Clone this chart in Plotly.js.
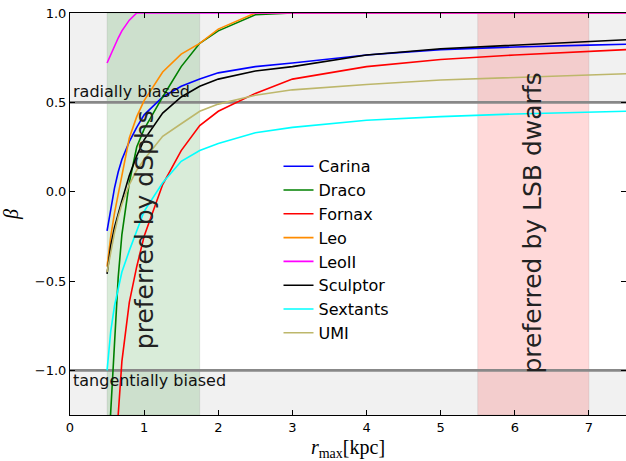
<!DOCTYPE html>
<html>
<head>
<meta charset="utf-8">
<script src="https://cdn.plot.ly/plotly-3.0.1.min.js"></script>
<style>html,body{margin:0;padding:0;background:#fff;}#chart{width:626px;height:461px;}</style>
</head>
<body>
<div id="chart"></div>
<script>
// r_max grid [kpc]
const rmax = [0.5, 0.55, 0.6, 0.65, 0.7, 0.8, 0.9, 1.0, 1.25, 1.5, 1.75, 2.0, 2.5, 3.0, 4.0, 5.0, 6.0, 7.0, 7.5];

const galaxies = ["Carina", "Draco", "Fornax", "Leo", "LeoII", "Sculptor", "Sextants", "UMI"];

const betaCarina   = [-0.22, -0.09, 0.02, 0.11, 0.18, 0.28, 0.36, 0.43, 0.53, 0.59, 0.63, 0.665, 0.70, 0.72, 0.765, 0.795, 0.81, 0.82, 0.825];
const betaDraco    = [-1.6, -1.21, -0.85, -0.48, -0.24, 0.05, 0.25, 0.35, 0.53, 0.70, 0.83, 0.90, 0.99, 1.0, 1.0, 1.0, 1.0, 1.0, 1.0];
const betaFornax   = [-2.4, -2.0, -1.6, -1.25, -0.95, -0.62, -0.42, -0.25, 0.04, 0.23, 0.37, 0.45, 0.55, 0.63, 0.70, 0.74, 0.765, 0.785, 0.795];
const betaLeo      = [-0.42, -0.25, -0.12, -0.02, 0.10, 0.30, 0.42, 0.51, 0.67, 0.77, 0.83, 0.91, 1.0, 1.0, 1.0, 1.0, 1.0, 1.0, 1.0];
const betaLeoII    = [0.72, 0.77, 0.82, 0.86, 0.90, 0.96, 1.0, 1.0, 1.0, 1.0, 1.0, 1.0, 1.0, 1.0, 1.0, 1.0, 1.0, 1.0, 1.0];
const betaSculptor = [-0.46, -0.30, -0.20, -0.12, -0.05, 0.09, 0.20, 0.29, 0.44, 0.53, 0.59, 0.63, 0.675, 0.70, 0.765, 0.80, 0.82, 0.84, 0.85];
const betaSextants = [-1.0, -0.78, -0.64, -0.54, -0.45, -0.33, -0.22, -0.11, 0.05, 0.17, 0.23, 0.27, 0.33, 0.36, 0.40, 0.42, 0.435, 0.445, 0.45];
const betaUMI      = [-0.45, -0.33, -0.23, -0.14, -0.07, 0.04, 0.12, 0.18, 0.31, 0.38, 0.45, 0.49, 0.54, 0.57, 0.60, 0.625, 0.64, 0.655, 0.66];

const seriesValues = [betaCarina, betaDraco, betaFornax, betaLeo, betaLeoII, betaSculptor, betaSextants, betaUMI];
const seriesColors = ["#0000ff", "#008000", "#ff0000", "#ff8c00", "#ff00ff", "#000000", "#00ffff", "#bdb76b"];

// reference levels and preferred ranges
const radialLevel = 0.5;
const tangentialLevel = -1.0;
const dSphRange = [0.5, 1.75];
const lsbRange = [5.5, 7.0];
const xRange = [0, 7.5];
const yRange = [-1.25, 1.0];
const xTicks = [0, 1, 2, 3, 4, 5, 6, 7];
const yTicks = [-1.0, -0.5, 0.0, 0.5, 1.0];

const traces = galaxies.map((g, i) => ({
  x: rmax, y: seriesValues[i], name: g,
  type: "scatter", mode: "lines",
  line: {color: seriesColors[i], width: 1.6}
}));

const shapes = [
  {type: "rect", xref: "paper", yref: "y", x0: 0, x1: 1, y0: radialLevel, y1: yRange[1], fillcolor: "#f1f1f1", line: {width: 0}, layer: "below"},
  {type: "rect", xref: "paper", yref: "y", x0: 0, x1: 1, y0: yRange[0], y1: tangentialLevel, fillcolor: "#f1f1f1", line: {width: 0}, layer: "below"},
  {type: "rect", xref: "x", yref: "paper", x0: dSphRange[0], x1: dSphRange[1], y0: 0, y1: 1, fillcolor: "rgba(0,128,0,0.15)", line: {width: 1, color: "rgba(0,0,0,0.08)"}, layer: "below"},
  {type: "rect", xref: "x", yref: "paper", x0: lsbRange[0], x1: lsbRange[1], y0: 0, y1: 1, fillcolor: "rgba(255,0,0,0.15)", line: {width: 1, color: "rgba(0,0,0,0.08)"}, layer: "below"},
  {type: "line", xref: "paper", yref: "y", x0: 0, x1: 1, y0: radialLevel, y1: radialLevel, line: {color: "#888888", width: 2.6}, layer: "below"},
  {type: "line", xref: "paper", yref: "y", x0: 0, x1: 1, y0: tangentialLevel, y1: tangentialLevel, line: {color: "#888888", width: 2.6}, layer: "below"}
];

const annFont = {family: "DejaVu Sans", size: 16, color: "#111"};
const bigFont = {family: "DejaVu Sans", size: 25, color: "#222"};
const annotations = [
  {text: "radially biased", xref: "x", yref: "y", x: 0.03, y: radialLevel, xanchor: "left", yanchor: "bottom", showarrow: false, font: annFont, borderpad: 0},
  {text: "tangentially biased", xref: "x", yref: "y", x: 0.03, y: tangentialLevel, xanchor: "left", yanchor: "top", showarrow: false, font: annFont, borderpad: 0},
  {text: "preferred by dSphs", xref: "x", yref: "y", x: 1.0, y: -0.215, xanchor: "center", yanchor: "middle", textangle: -90, showarrow: false, font: bigFont},
  {text: "preferred by LSB dwarfs", xref: "x", yref: "y", x: 6.24, y: -0.175, xanchor: "center", yanchor: "middle", textangle: -90, showarrow: false, font: bigFont}
];

const layout = {
  width: 626, height: 461,
  margin: {l: 70, r: 0, t: 13, b: 46},
  paper_bgcolor: "#ffffff", plot_bgcolor: "#ffffff",
  showlegend: true,
  legend: {x: 0.375, y: 0.661, xanchor: "left", yanchor: "top", bgcolor: "rgba(0,0,0,0)", borderwidth: 0,
           font: {family: "DejaVu Sans", size: 16, color: "#000"}},
  xaxis: {range: xRange, tickvals: xTicks, ticks: "inside", ticklen: 5, tickcolor: "#000", showline: true, linecolor: "#000", linewidth: 1,
          mirror: "ticks", showgrid: false, zeroline: false, tickfont: {family: "DejaVu Sans", size: 13, color: "#000"},
          title: {text: "<i>r</i><sub>max</sub>[kpc]", font: {family: "Liberation Serif", size: 20, color: "#000"}, standoff: 7}},
  yaxis: {range: yRange, tickvals: yTicks, tickformat: ".1f", ticks: "inside", ticklen: 5, tickcolor: "#000", showline: true, linecolor: "#000", linewidth: 1,
          mirror: "ticks", showgrid: false, zeroline: false, tickfont: {family: "DejaVu Sans", size: 13, color: "#000"},
          title: {text: "<i>β</i>", font: {family: "Liberation Serif", size: 20, color: "#000"}, standoff: 12}},
  shapes: shapes,
  annotations: annotations
};

Plotly.newPlot("chart", traces, layout, {displayModeBar: false, staticPlot: true});
</script>
</body>
</html>
